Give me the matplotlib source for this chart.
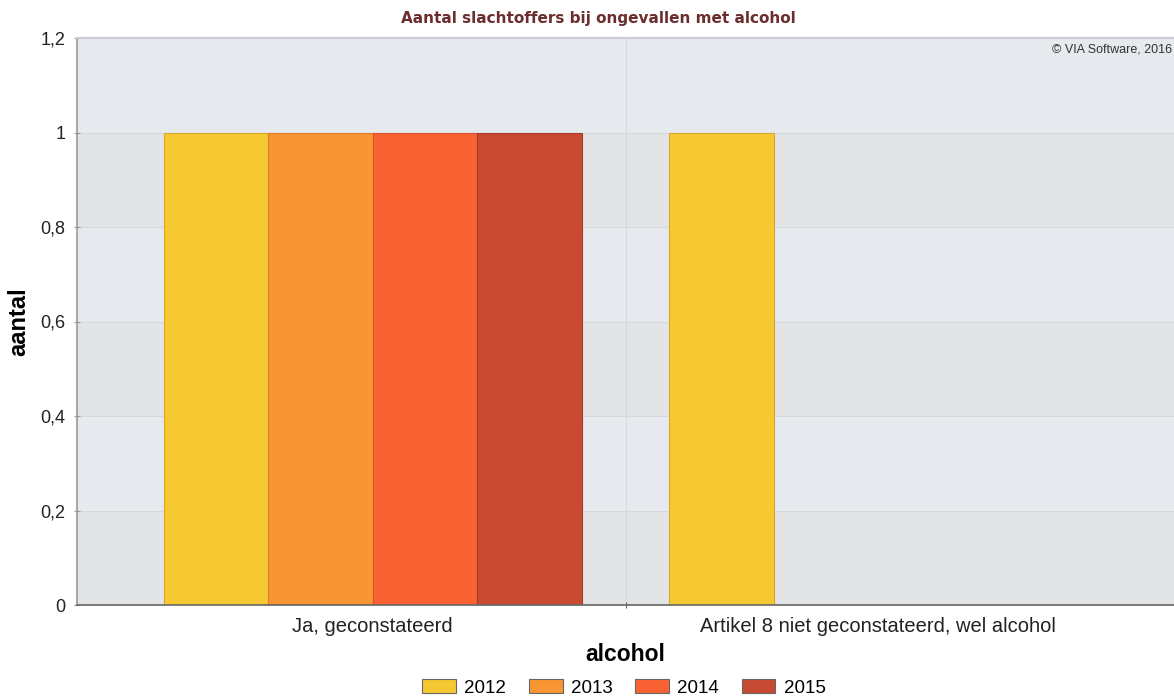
import numpy as np
import matplotlib
matplotlib.use("Agg")
import matplotlib.pyplot as plt
from matplotlib.patches import Patch

# Data
categories = ["Ja, geconstateerd", "Artikel 8 niet geconstateerd, wel alcohol"]
years = ["2012", "2013", "2014", "2015"]
values = {
    "2012": [1, 1],
    "2013": [1, 0],
    "2014": [1, 0],
    "2015": [1, 0],
}
y_ticks = [0, 0.2, 0.4, 0.6, 0.8, 1.0, 1.2]
y_tick_labels = ["0", "0,2", "0,4", "0,6", "0,8", "1", "1,2"]

face_colors = ["#f6c932", "#f99633", "#fa6233", "#c94a33"]
edge_colors = ["#d9a62a", "#dc7d28", "#d9512a", "#a83a28"]

plt.rcParams["font.family"] = ["Liberation Sans", "DejaVu Sans"]

fig = plt.figure(figsize=(11.74, 6.99), dpi=100)
ax = fig.add_axes([77 / 1174, 94 / 699, 1 - 77 / 1174, (605 - 38) / 699])

# Alternating horizontal bands
band_colors = ["#e3e4e6", "#e6e9ed"]
for i in range(len(y_ticks) - 1):
    ax.axhspan(y_ticks[i], y_ticks[i + 1], color=band_colors[i % 2], zorder=0, lw=0)
for t in y_ticks[1:-1]:
    ax.axhline(t, color="#d6d8db", lw=0.8, zorder=0.5)
ax.axvline(0.5, color="#d6d8db", lw=0.8, zorder=0.5)

x = np.arange(len(categories))
width = 0.2065
n = len(years)
for i, yr in enumerate(years):
    offs = (i - (n - 1) / 2) * width
    ax.bar(x + offs, values[yr], width, color=face_colors[i],
           edgecolor=edge_colors[i], linewidth=0.8, zorder=2)

ax.set_xlim(-0.585, 1.585)
ax.set_ylim(0, 1.2)
ax.set_yticks(y_ticks)
ax.set_yticklabels(y_tick_labels, fontsize=13, color="#222222")
ax.set_xticks([0.5], minor=False)
ax.set_xticklabels([""])
ax.set_xticks(x, minor=True)
ax.set_xticklabels(categories, minor=True, fontsize=14.5, color="#222222")
ax.tick_params(axis="x", which="minor", length=0, pad=9)
ax.tick_params(axis="x", which="major", length=4, color="#666666", direction="inout")
ax.tick_params(axis="y", length=5, color="#999999", pad=6, direction="inout")

for side in ["top", "right"]:
    ax.spines[side].set_visible(False)
ax.spines["left"].set_color("#999999")
ax.spines["left"].set_linewidth(1.2)
ax.spines["bottom"].set_color("#666666")
ax.spines["bottom"].set_linewidth(1.2)
ax.axhline(1.2, color="#c9cdd2", lw=1.5, zorder=3, clip_on=False)

ax.set_ylabel("aantal", fontsize=17, fontweight="bold", labelpad=7)
ax.set_xlabel("alcohol", fontsize=16.5, fontweight="bold", labelpad=5)

fig.text(598 / 1174, 1 - 18 / 699, "Aantal slachtoffers bij ongevallen met alcohol",
         ha="center", va="center", fontsize=11, fontweight="bold",
         color="#6b2d2d", family="DejaVu Sans")
ax.text(0.998, 0.99, "\u00a9 VIA Software, 2016", transform=ax.transAxes,
        ha="right", va="top", fontsize=9, color="#333333")

handles = [Patch(facecolor=face_colors[i], edgecolor="#666666", linewidth=0.8, label=yr)
           for i, yr in enumerate(years)]
fig.legend(handles=handles, loc="center", bbox_to_anchor=(624 / 1174, 1 - 688 / 699),
           ncol=4, frameon=False, fontsize=13.5, handlelength=1.8, handleheight=0.75,
           columnspacing=1.2, handletextpad=0.45, borderpad=0.2)

fig.savefig("out.png", dpi=100)
